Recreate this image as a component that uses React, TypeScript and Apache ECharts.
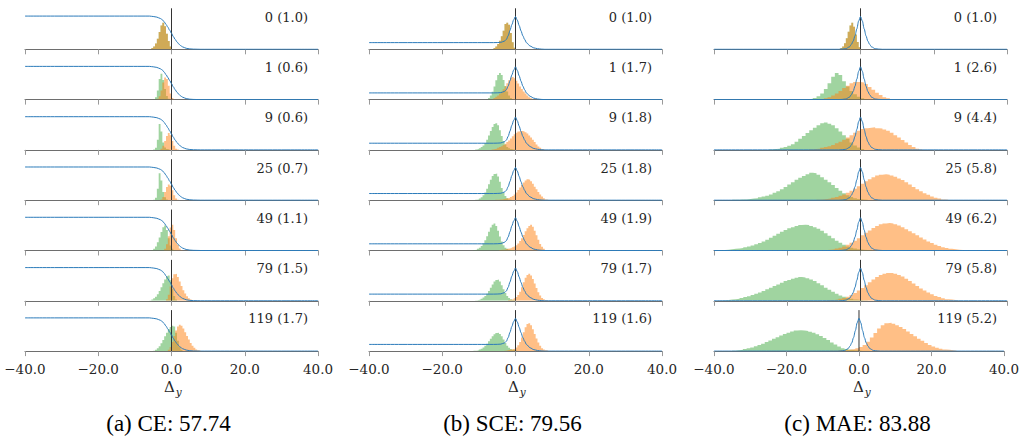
import React, { useEffect, useRef } from "react";
import * as echarts from "echarts";

// ---------- data ----------
const epochs = [0, 1, 9, 25, 49, 79, 119];
const ceScores = [1.0, 0.6, 0.6, 0.7, 1.1, 1.5, 1.7];
const sceScores = [1.0, 1.7, 1.8, 1.8, 1.9, 1.7, 1.6];
const maeScores = [1.0, 2.6, 4.4, 5.8, 6.2, 5.8, 5.2];
const captions = ["(a) CE: 57.74", "(b) SCE: 79.56", "(c) MAE: 83.88"];

// histogram: [first bin edge, bin width, bin heights (fraction of panel height)]
type Hist = [number, number, number[]];

const ceGreen: Hist[] = [
  [-6, 0.5, [0.01, 0.03, 0.07, 0.14, 0.26, 0.42, 0.58, 0.65, 0.56, 0.38, 0.2, 0.07, 0.01]],
  [-5, 0.5, [0.01, 0.06, 0.22, 0.5, 0.63, 0.48, 0.26, 0.09, 0.02]],
  [-5, 0.5, [0.01, 0.05, 0.25, 0.63, 0.45, 0.18, 0.06, 0.02, 0.01]],
  [-5, 0.5, [0.01, 0.06, 0.28, 0.66, 0.48, 0.2, 0.07, 0.02]],
  [-5.5, 0.5, [0.01, 0.04, 0.1, 0.2, 0.32, 0.45, 0.57, 0.61, 0.5, 0.3, 0.12, 0.04, 0.01]],
  [-6, 0.5, [0.01, 0.03, 0.06, 0.1, 0.16, 0.24, 0.33, 0.43, 0.52, 0.6, 0.62, 0.5, 0.3, 0.12, 0.03]],
  [-5, 0.5, [0.01, 0.03, 0.07, 0.12, 0.19, 0.27, 0.36, 0.45, 0.53, 0.59, 0.62, 0.6, 0.45, 0.25, 0.1, 0.03]],
];
const ceOrange: Hist[] = [
  [-6, 0.5, [0.01, 0.03, 0.07, 0.14, 0.26, 0.42, 0.58, 0.65, 0.56, 0.38, 0.2, 0.07, 0.01]],
  [-4, 0.5, [0.02, 0.08, 0.22, 0.42, 0.54, 0.5, 0.34, 0.15, 0.04, 0.01]],
  [-3, 0.5, [0.03, 0.1, 0.22, 0.34, 0.41, 0.36, 0.22, 0.1, 0.03, 0.01]],
  [-3, 0.5, [0.02, 0.08, 0.2, 0.32, 0.38, 0.35, 0.24, 0.12, 0.04, 0.01]],
  [-2, 0.5, [0.04, 0.15, 0.35, 0.56, 0.63, 0.5, 0.3, 0.14, 0.05, 0.01]],
  [-1.5, 0.5, [0.04, 0.15, 0.35, 0.55, 0.65, 0.66, 0.58, 0.47, 0.36, 0.26, 0.18, 0.11, 0.06, 0.03, 0.01]],
  [-1, 0.5, [0.03, 0.1, 0.22, 0.37, 0.5, 0.6, 0.64, 0.62, 0.55, 0.46, 0.37, 0.28, 0.2, 0.13, 0.08, 0.04, 0.02, 0.01]],
];

const sceGreen: Hist[] = [
  [-6.5, 0.5, [0.01, 0.03, 0.07, 0.13, 0.21, 0.32, 0.45, 0.62, 0.65, 0.6, 0.4, 0.17, 0.04]],
  [-8, 0.5, [0.01, 0.04, 0.1, 0.19, 0.32, 0.47, 0.6, 0.65, 0.6, 0.48, 0.33, 0.2, 0.1, 0.04, 0.01]],
  [-11, 0.5, [0.01, 0.02, 0.04, 0.07, 0.11, 0.17, 0.25, 0.35, 0.46, 0.56, 0.63, 0.65, 0.6, 0.48, 0.34, 0.22, 0.13, 0.07, 0.04, 0.02, 0.01, 0.01]],
  [-11, 0.5, [0.01, 0.02, 0.04, 0.07, 0.12, 0.19, 0.28, 0.39, 0.5, 0.59, 0.64, 0.65, 0.58, 0.45, 0.3, 0.18, 0.1, 0.05, 0.02, 0.01]],
  [-11.5, 0.5, [0.01, 0.02, 0.04, 0.07, 0.11, 0.17, 0.25, 0.35, 0.46, 0.56, 0.63, 0.66, 0.6, 0.48, 0.34, 0.22, 0.13, 0.07, 0.04, 0.02, 0.01, 0.01]],
  [-11, 0.5, [0.01, 0.02, 0.03, 0.05, 0.08, 0.12, 0.17, 0.24, 0.32, 0.4, 0.47, 0.51, 0.52, 0.47, 0.38, 0.28, 0.19, 0.12, 0.07, 0.04, 0.02, 0.01]],
  [-11.5, 0.5, [0.01, 0.01, 0.02, 0.04, 0.06, 0.09, 0.13, 0.18, 0.24, 0.3, 0.36, 0.41, 0.44, 0.45, 0.42, 0.36, 0.28, 0.2, 0.13, 0.08, 0.05, 0.03, 0.02, 0.01]],
];
const sceOrange: Hist[] = [
  [-6.5, 0.5, [0.01, 0.03, 0.07, 0.13, 0.21, 0.32, 0.45, 0.62, 0.65, 0.6, 0.4, 0.17, 0.04]],
  [-7, 0.5, [0.01, 0.02, 0.04, 0.07, 0.1, 0.14, 0.19, 0.25, 0.32, 0.4, 0.47, 0.53, 0.55, 0.52, 0.46, 0.39, 0.32, 0.26, 0.2, 0.15, 0.1, 0.06, 0.03, 0.01]],
  [-6.5, 0.5, [0.01, 0.02, 0.03, 0.05, 0.07, 0.09, 0.12, 0.15, 0.19, 0.23, 0.28, 0.33, 0.38, 0.42, 0.45, 0.46, 0.46, 0.45, 0.43, 0.4, 0.35, 0.3, 0.25, 0.19, 0.13, 0.08, 0.05, 0.02, 0.01]],
  [-5.5, 0.5, [0.01, 0.01, 0.02, 0.02, 0.03, 0.04, 0.05, 0.06, 0.08, 0.1, 0.14, 0.19, 0.25, 0.31, 0.37, 0.43, 0.48, 0.51, 0.5, 0.46, 0.4, 0.33, 0.27, 0.2, 0.14, 0.09, 0.05, 0.02, 0.01]],
  [-4.5, 0.5, [0.01, 0.02, 0.02, 0.03, 0.04, 0.05, 0.06, 0.08, 0.1, 0.13, 0.17, 0.23, 0.3, 0.38, 0.47, 0.54, 0.6, 0.63, 0.58, 0.48, 0.37, 0.26, 0.16, 0.09, 0.04, 0.01]],
  [-2, 0.5, [0.02, 0.03, 0.04, 0.06, 0.09, 0.14, 0.22, 0.33, 0.45, 0.56, 0.63, 0.66, 0.62, 0.53, 0.42, 0.31, 0.21, 0.13, 0.07, 0.04, 0.02, 0.01]],
  [-3, 0.5, [0.01, 0.02, 0.03, 0.04, 0.05, 0.06, 0.09, 0.14, 0.22, 0.33, 0.46, 0.58, 0.66, 0.68, 0.63, 0.53, 0.42, 0.31, 0.21, 0.13, 0.07, 0.04, 0.02, 0.01]],
];

const maeGreen: Hist[] = [
  [-6, 0.5, [0.01, 0.03, 0.07, 0.15, 0.27, 0.43, 0.58, 0.65, 0.55, 0.36, 0.18, 0.05, 0.01]],
  [-15, 1, [0.01, 0.02, 0.04, 0.08, 0.15, 0.26, 0.4, 0.56, 0.65, 0.6, 0.45, 0.32, 0.21, 0.13, 0.07, 0.03, 0.01]],
  [-25, 1, [0.01, 0.02, 0.03, 0.05, 0.07, 0.1, 0.14, 0.2, 0.27, 0.34, 0.41, 0.48, 0.54, 0.6, 0.65, 0.67, 0.64, 0.6, 0.53, 0.45, 0.36, 0.27, 0.18, 0.11, 0.06, 0.02]],
  [-35, 1, [0.01, 0.01, 0.02, 0.02, 0.03, 0.04, 0.05, 0.07, 0.09, 0.11, 0.14, 0.18, 0.22, 0.27, 0.32, 0.38, 0.44, 0.5, 0.55, 0.59, 0.63, 0.67, 0.66, 0.62, 0.56, 0.5, 0.44, 0.37, 0.3, 0.23, 0.17, 0.12, 0.08, 0.05, 0.03, 0.02, 0.01]],
  [-39, 1, [0.01, 0.01, 0.02, 0.03, 0.04, 0.05, 0.06, 0.08, 0.1, 0.12, 0.15, 0.18, 0.22, 0.26, 0.31, 0.36, 0.41, 0.46, 0.5, 0.54, 0.57, 0.6, 0.62, 0.63, 0.62, 0.6, 0.57, 0.53, 0.48, 0.42, 0.36, 0.3, 0.24, 0.19, 0.14, 0.1, 0.07, 0.05, 0.03, 0.02, 0.01, 0.01]],
  [-38, 1, [0.01, 0.02, 0.03, 0.04, 0.05, 0.07, 0.09, 0.11, 0.14, 0.17, 0.2, 0.24, 0.28, 0.32, 0.36, 0.4, 0.44, 0.48, 0.51, 0.54, 0.56, 0.58, 0.57, 0.55, 0.52, 0.48, 0.43, 0.38, 0.32, 0.27, 0.22, 0.17, 0.13, 0.1, 0.07, 0.05, 0.03, 0.02, 0.01, 0.01]],
  [-35, 1, [0.01, 0.02, 0.03, 0.05, 0.07, 0.09, 0.12, 0.15, 0.18, 0.22, 0.26, 0.3, 0.34, 0.38, 0.42, 0.45, 0.48, 0.5, 0.51, 0.5, 0.49, 0.47, 0.45, 0.41, 0.37, 0.32, 0.27, 0.21, 0.16, 0.11, 0.07, 0.05, 0.03, 0.02, 0.02, 0.01, 0.01, 0.01]],
];
const maeOrange: Hist[] = [
  [-6, 0.5, [0.01, 0.03, 0.07, 0.15, 0.27, 0.43, 0.58, 0.65, 0.55, 0.36, 0.18, 0.05, 0.01]],
  [-11, 1, [0.01, 0.03, 0.06, 0.1, 0.15, 0.21, 0.28, 0.34, 0.4, 0.43, 0.43, 0.42, 0.38, 0.31, 0.24, 0.17, 0.11, 0.06, 0.03, 0.01]],
  [-14, 1, [0.01, 0.02, 0.03, 0.05, 0.07, 0.09, 0.12, 0.16, 0.2, 0.25, 0.3, 0.36, 0.42, 0.47, 0.51, 0.53, 0.54, 0.55, 0.53, 0.52, 0.5, 0.47, 0.42, 0.36, 0.3, 0.24, 0.18, 0.12, 0.07, 0.03, 0.01]],
  [-12, 1, [0.01, 0.02, 0.03, 0.04, 0.06, 0.08, 0.11, 0.14, 0.18, 0.23, 0.28, 0.34, 0.4, 0.46, 0.51, 0.56, 0.6, 0.62, 0.63, 0.62, 0.6, 0.57, 0.53, 0.49, 0.44, 0.38, 0.32, 0.27, 0.22, 0.17, 0.13, 0.09, 0.06, 0.04, 0.02, 0.01]],
  [-10, 1, [0.01, 0.02, 0.03, 0.05, 0.07, 0.1, 0.14, 0.19, 0.24, 0.3, 0.37, 0.43, 0.49, 0.55, 0.6, 0.64, 0.66, 0.67, 0.66, 0.64, 0.61, 0.57, 0.52, 0.47, 0.42, 0.37, 0.32, 0.27, 0.22, 0.18, 0.14, 0.11, 0.08, 0.06, 0.04, 0.03, 0.02, 0.01]],
  [-10, 1, [0.01, 0.02, 0.02, 0.03, 0.05, 0.07, 0.1, 0.14, 0.19, 0.25, 0.31, 0.38, 0.45, 0.52, 0.58, 0.63, 0.66, 0.68, 0.68, 0.66, 0.63, 0.59, 0.54, 0.48, 0.42, 0.36, 0.3, 0.25, 0.2, 0.16, 0.12, 0.09, 0.06, 0.04, 0.03, 0.02, 0.01]],
  [-8, 1, [0.01, 0.01, 0.02, 0.02, 0.03, 0.04, 0.05, 0.07, 0.1, 0.15, 0.23, 0.33, 0.44, 0.55, 0.63, 0.68, 0.69, 0.67, 0.63, 0.59, 0.54, 0.48, 0.42, 0.36, 0.3, 0.25, 0.2, 0.15, 0.11, 0.08, 0.06, 0.04, 0.03, 0.02, 0.01]],
];

// blue curves (fraction of panel height), same in every row of a column
const ceCurveX = [-40, -6, -5, -4, -3, -2.5, -2, -1.5, -1, -0.5, 0, 0.5, 1, 1.5, 2, 2.5, 3, 4, 5, 6, 8, 40];
const ceCurveY = [0.81, 0.81, 0.8, 0.785, 0.75, 0.72, 0.67, 0.61, 0.54, 0.465, 0.39, 0.31, 0.24, 0.18, 0.13, 0.09, 0.06, 0.025, 0.01, 0.004, 0, 0];
const sceCurveX = [-40, -6, -5, -4, -3, -2.5, -2, -1.5, -1, -0.5, 0, 0.5, 1, 1.5, 2, 2.5, 3, 4, 5, 6, 7, 8, 40];
const sceCurveY = [0.163, 0.163, 0.165, 0.17, 0.2, 0.24, 0.33, 0.46, 0.6, 0.72, 0.8, 0.71, 0.58, 0.45, 0.33, 0.24, 0.16, 0.08, 0.035, 0.015, 0.005, 0, 0];
const maeCurveX = [-40, -6, -5, -4, -3, -2.5, -2, -1.5, -1, -0.5, 0, 0.5, 1, 1.5, 2, 2.5, 3, 4, 5, 6, 40];
const maeCurveY = [0, 0, 0.005, 0.015, 0.06, 0.12, 0.2, 0.33, 0.5, 0.69, 0.8, 0.69, 0.5, 0.33, 0.2, 0.12, 0.06, 0.015, 0.005, 0, 0];

// ---------- layout ----------
const COL_LEFT = [25, 369, 714];
const PANEL_W = 293;
const PANEL_H = 41;
const ROW_TOP0 = 8.3;
const ROW_STEP = 50.3;
const SERIF = "'DejaVu Serif', serif";
const TIMES = "'Liberation Serif', 'Times New Roman', serif";

function histPoints(h: Hist) {
  const [x0, w, hs] = h;
  const pts: number[][] = hs.map((v, k) => [x0 + k * w, v]);
  pts.push([x0 + hs.length * w, 0]);
  return pts;
}

function fmtTick(v: number) {
  return (v < 0 ? "\u2212" : "") + Math.abs(v).toFixed(1);
}

export default function App() {
  const ref = useRef<HTMLDivElement>(null);
  useEffect(() => {
    if (!ref.current) return;
    const chart = echarts.init(ref.current, null, { renderer: "svg" });
    const cols = [
      { green: ceGreen, orange: ceOrange, cx: ceCurveX, cy: ceCurveY, scores: ceScores },
      { green: sceGreen, orange: sceOrange, cx: sceCurveX, cy: sceCurveY, scores: sceScores },
      { green: maeGreen, orange: maeOrange, cx: maeCurveX, cy: maeCurveY, scores: maeScores },
    ];
    const grid: any[] = [];
    const xAxis: any[] = [];
    const yAxis: any[] = [];
    const series: any[] = [];
    const graphic: any[] = [];
    let gi = 0;
    cols.forEach((col, c) => {
      for (let r = 0; r < epochs.length; r++) {
        const top = ROW_TOP0 + r * ROW_STEP;
        const last = r === epochs.length - 1;
        grid.push({ left: COL_LEFT[c], top, width: PANEL_W, height: PANEL_H, containLabel: false });
        xAxis.push({
          type: "value",
          gridIndex: gi,
          min: -40,
          max: 40,
          interval: 20,
          splitLine: { show: false },
          axisLine: { show: true, lineStyle: { color: "#6e6e6e", width: 1 } },
          axisTick: { show: true, length: 5, lineStyle: { color: "#9a9a9a", width: 1 } },
          axisLabel: {
            show: last,
            formatter: fmtTick,
            margin: 11,
            fontFamily: SERIF,
            fontSize: 13.5,
            color: "#262626",
          },
        });
        yAxis.push({ type: "value", gridIndex: gi, min: 0, max: 1, show: false });
        const common = {
          type: "line",
          xAxisIndex: gi,
          yAxisIndex: gi,
          symbol: "none",
          silent: true,
        };
        series.push({
          ...common,
          step: "end",
          data: histPoints(col.green[r]),
          lineStyle: { width: 0, opacity: 0 },
          areaStyle: { color: "rgba(44,160,44,0.45)", opacity: 1 },
        });
        series.push({
          ...common,
          step: "end",
          data: histPoints(col.orange[r]),
          lineStyle: { width: 0, opacity: 0 },
          areaStyle: { color: "rgba(255,127,14,0.5)", opacity: 1 },
        });
        series.push({
          ...common,
          data: [[0, 0], [0, 1]],
          lineStyle: { color: "#333333", width: 1 },
        });
        series.push({
          ...common,
          smooth: 0.3,
          smoothMonotone: "x",
          data: col.cx.map((x, k) => [x, col.cy[k]]),
          lineStyle: { color: "#2b7bba", width: 1 },
        });
        graphic.push({
          type: "text",
          x: COL_LEFT[c] + PANEL_W - 10,
          y: top + 8.8,
          style: {
            text: `${epochs[r]} (${col.scores[r].toFixed(1)})`,
            font: `13px ${SERIF}`,
            fill: "#262626",
            align: "right",
            verticalAlign: "middle",
          },
        });
        gi++;
      }
      const zeroX = COL_LEFT[c] + PANEL_W / 2;
      graphic.push({
        type: "text",
        x: zeroX - 2,
        y: 387,
        style: {
          text: "\u0394",
          font: `15px ${SERIF}`,
          fill: "#262626",
          align: "center",
          verticalAlign: "middle",
        },
      });
      graphic.push({
        type: "text",
        x: zeroX + 4.2,
        y: 392,
        style: {
          text: "y",
          font: `italic 10.5px ${SERIF}`,
          fill: "#262626",
          align: "left",
          verticalAlign: "middle",
        },
      });
      graphic.push({
        type: "text",
        x: zeroX - 3,
        y: 423,
        style: {
          text: captions[c],
          font: `23px ${TIMES}`,
          fill: "#000000",
          align: "center",
          verticalAlign: "middle",
        },
      });
    });

    chart.setOption({
      animation: false,
      backgroundColor: "#ffffff",
      grid,
      xAxis,
      yAxis,
      series,
      graphic,
    });
    return () => chart.dispose();
  }, []);
  return (
    <div
      ref={ref}
      style={{ position: "fixed", left: 0, top: 0, width: 1022, height: 437 }}
    />
  );
}
